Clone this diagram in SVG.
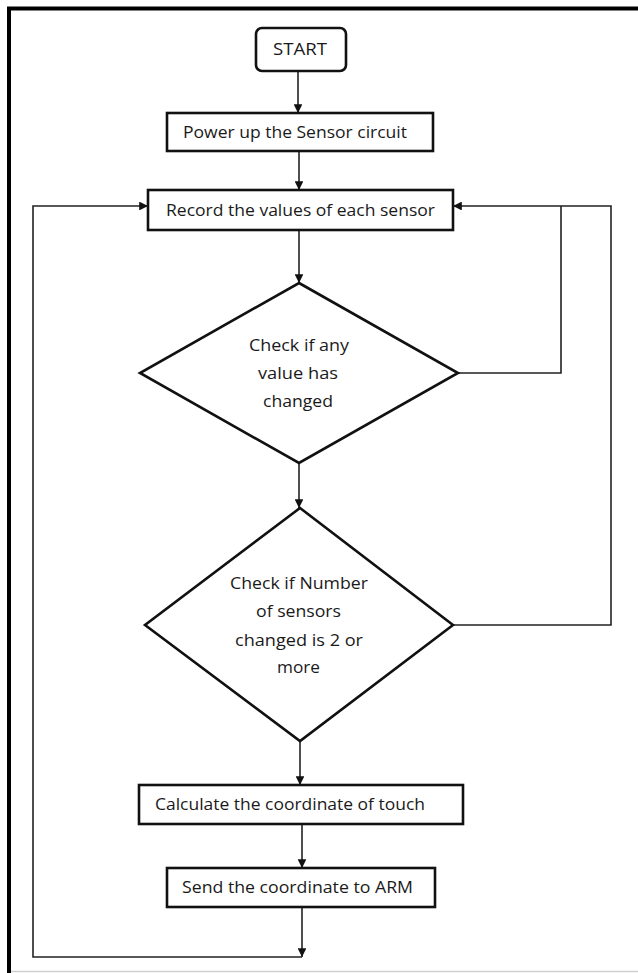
<svg xmlns="http://www.w3.org/2000/svg" width="638" height="973" viewBox="0 0 638 973">
<style>
.box{fill:#fff;stroke:#111;stroke-width:2.6}
.ln{fill:none;stroke:#222;stroke-width:1.6}
.t{font-family:"Open Sans","Liberation Sans",sans-serif;font-size:17px;fill:#1a1a1a}
</style>
<defs>
<marker id="ah" viewBox="0 0 10 10" refX="10" refY="5" markerWidth="5.5" markerHeight="5.5" markerUnits="strokeWidth" orient="auto">
<path d="M0,0 L10,5 L0,10 z" fill="#111"/>
</marker>
</defs>
<rect width="638" height="973" fill="#fff"/>
<g id="frame">
<line x1="7" y1="8.5" x2="638" y2="8.5" stroke="#000" stroke-width="4"/>
<line x1="9" y1="7" x2="9" y2="973" stroke="#000" stroke-width="4"/>
<line x1="11" y1="971.5" x2="638" y2="971.5" stroke="#d0d0d0" stroke-width="1.5"/>
</g>
<g id="connectors">
<line class="ln" x1="298" y1="71" x2="298" y2="113" marker-end="url(#ah)"/>
<line class="ln" x1="299" y1="151" x2="299" y2="190" marker-end="url(#ah)"/>
<line class="ln" x1="299" y1="230" x2="299" y2="283" marker-end="url(#ah)"/>
<line class="ln" x1="299" y1="463" x2="299" y2="508" marker-end="url(#ah)"/>
<line class="ln" x1="300" y1="741" x2="300" y2="785" marker-end="url(#ah)"/>
<line class="ln" x1="302" y1="824" x2="302" y2="868" marker-end="url(#ah)"/>
<line class="ln" x1="302" y1="907" x2="302" y2="957" marker-end="url(#ah)"/>
<polyline class="ln" points="302,957 33,957 33,206 148,206" marker-end="url(#ah)"/>
<polyline class="ln" points="458,373 561,373 561,206"/>
<polyline class="ln" points="453,625 611,625 611,206 453,206" marker-end="url(#ah)"/>
</g>
<g id="start">
<rect class="box" x="256" y="28" width="90" height="43" rx="6"/>
<text class="t" x="273" y="55" textLength="54" lengthAdjust="spacingAndGlyphs">START</text>
</g>
<g id="power">
<rect class="box" x="167" y="113" width="266" height="38" stroke-width="3"/>
<text class="t" x="183" y="138" textLength="224" lengthAdjust="spacingAndGlyphs">Power up the Sensor circuit</text>
</g>
<g id="record">
<rect class="box" x="148" y="190" width="305" height="40" stroke-width="3"/>
<text class="t" x="166" y="216" textLength="269" lengthAdjust="spacingAndGlyphs">Record the values of each sensor</text>
</g>
<g id="check1">
<polygon class="box" points="299,283 458,373 299,463 140,373"/>
<text class="t" x="249" y="351" textLength="100" lengthAdjust="spacingAndGlyphs">Check if any</text>
<text class="t" x="258" y="379" textLength="80" lengthAdjust="spacingAndGlyphs">value has</text>
<text class="t" x="263" y="407" textLength="70" lengthAdjust="spacingAndGlyphs">changed</text>
</g>
<g id="check2">
<polygon class="box" points="300,508 453,625 300,741 145,625"/>
<text class="t" x="230" y="589" textLength="138" lengthAdjust="spacingAndGlyphs">Check if Number</text>
<text class="t" x="256" y="617" textLength="85" lengthAdjust="spacingAndGlyphs">of sensors</text>
<text class="t" x="235" y="646" textLength="128" lengthAdjust="spacingAndGlyphs">changed is 2 or</text>
<text class="t" x="277" y="673" textLength="43" lengthAdjust="spacingAndGlyphs">more</text>
</g>
<g id="calc">
<rect class="box" x="139" y="785" width="324" height="39"/>
<text class="t" x="155" y="810" textLength="270" lengthAdjust="spacingAndGlyphs">Calculate the coordinate of touch</text>
</g>
<g id="send">
<rect class="box" x="167" y="868" width="268" height="39"/>
<text class="t" x="182" y="893" textLength="231" lengthAdjust="spacingAndGlyphs">Send the coordinate to ARM</text>
</g>
</svg>
